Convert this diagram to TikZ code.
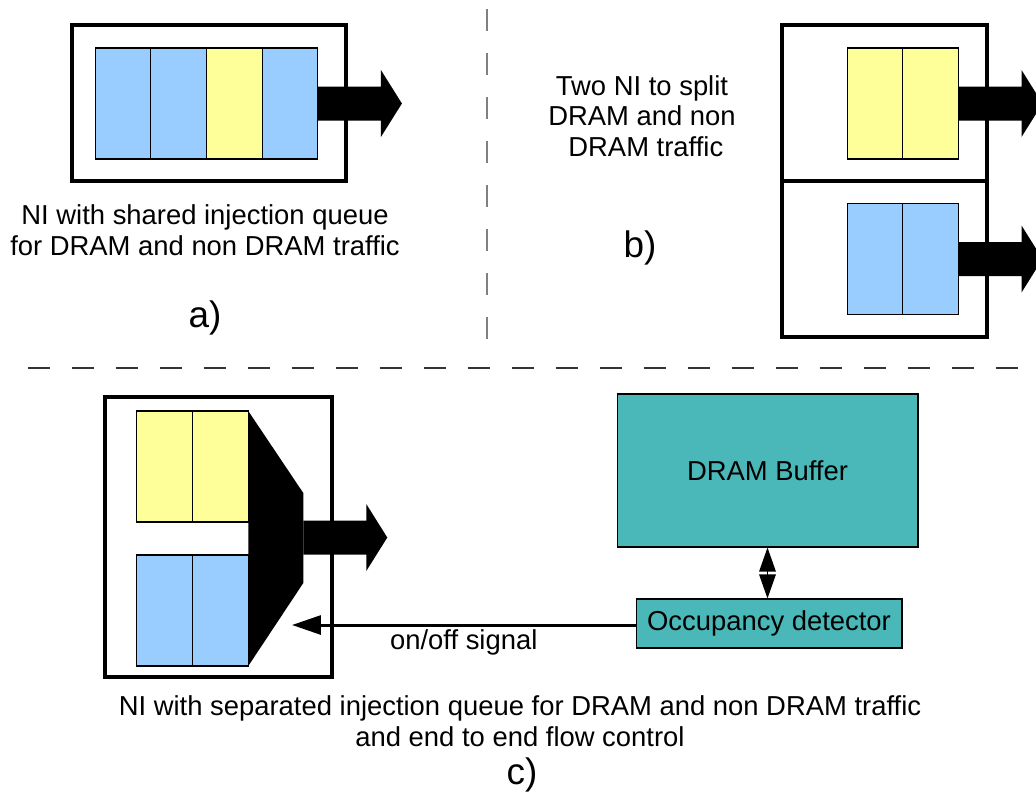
\documentclass[tikz,border=0pt]{standalone}
\usepackage{fontspec}
\setmainfont{Liberation Sans}
\usepackage{xcolor}
\usepackage{tikz}
\usetikzlibrary{positioning,arrows.meta,calc}
\definecolor{qblue}{RGB}{153,204,255}
\definecolor{qyellow}{RGB}{255,255,153}
\definecolor{dteal}{RGB}{74,184,184}
\tikzset{
  nibox/.style  ={draw, rectangle, line width=2.3pt, inner sep=0pt, outer sep=0pt},
  cellb/.style  ={draw, rectangle, fill=qblue, minimum width=1.114cm, minimum height=2.22cm, inner sep=0pt, outer sep=0pt, line width=0.6pt},
  celly/.style  ={cellb, fill=qyellow},
  tblk/.style   ={draw, rectangle, fill=dteal, line width=0.6pt, inner sep=0pt, align=center},
  sep/.style    ={line width=1pt, dash pattern=on 0.44cm off 0.44cm},
  sigarr/.style ={-{Triangle[length=0.58cm, width=0.38cm]}, line width=1.7pt},
  dblarr/.style ={{Triangle[length=0.48cm, width=0.33cm]}-{Triangle[length=0.48cm, width=0.33cm]}, line width=0.8pt},
  lbl/.style    ={align=center, font=\fontsize{15.6}{17.5}\selectfont},
  tag/.style    ={font=\fontsize{21}{24}\selectfont},
  blockarrow/.pic={\fill (0,-17) -- (63,-17) -- (63,-33.5) -- (84,0) -- (63,33.5) -- (63,17) -- (0,17) -- cycle;},
}
\begin{document}
\begin{tikzpicture}[x=0.02cm, y=-0.02cm]
  \useasboundingbox (0,0) rectangle (1036,796);
  \clip (0,0) rectangle (1036,796);

  % separators
  \draw[sep, gray] (487,9) -- (487,345);
  \draw[sep, black!80] (28,368) -- (1036,368);

  % a) shared queue
  \node[nibox, minimum width=5.48cm, minimum height=3.12cm] (nia) at (209,103) {};
  \node[cellb] (qa1) at (123,103.5) {};
  \node[cellb, right=0pt of qa1] (qa2) {};
  \node[celly, right=0pt of qa2] (qa3) {};
  \node[cellb, right=0pt of qa3] (qa4) {};
  \pic at (qa4.east) {blockarrow};
  \node[lbl] (capa) at (205,230) {NI with shared injection queue\\for DRAM and non DRAM traffic};
  \node[tag] (taga) at (205,318) {a)};

  % b) two NI
  \node[nibox, minimum width=4.1cm, minimum height=3.12cm] (nib1) at (884.5,103) {};
  \node[nibox, minimum width=4.1cm, minimum height=3.12cm] (nib2) at (884.5,259) {};
  \node[celly] (qb1) at (875,103.5) {};
  \node[celly, right=0pt of qb1] (qb2) {};
  \node[cellb] (qb3) at (875,259) {};
  \node[cellb, right=0pt of qb3] (qb4) {};
  \pic at (qb2.east) {blockarrow};
  \pic at (qb4.east) {blockarrow};
  \node[lbl] (capb) at (642,116) {Two NI to split\\DRAM and non\\\ DRAM traffic};
  \node[tag] (tagb) at (640,248) {b)};

  % c) separated queues + flow control
  \node[nibox, minimum width=4.54cm, minimum height=5.6cm] (nic) at (218.5,537) {};
  \node[celly] (qc1) at (164.75,466.5) {};
  \node[celly, right=0pt of qc1] (qc2) {};
  \node[cellb] (qc3) at (164.75,610.5) {};
  \node[cellb, right=0pt of qc3] (qc4) {};
  \fill (qc2.north east) -- ++(55,82) -- ++(0,90) -- (qc4.south east) -- cycle;
  \coordinate (muxout) at ($(qc2.north east)+(55,126.5)$);
  \pic at (muxout) {blockarrow};

  \node[tblk, minimum width=6.02cm, minimum height=3.06cm, font=\fontsize{15.6}{17.5}\selectfont] (dram) at (767.5,470.5) {DRAM Buffer};
  \node[tblk, minimum width=5.32cm, minimum height=0.98cm, font=\fontsize{15.6}{17.5}\selectfont] (occ) at (769,623.5) {Occupancy detector};
  \draw[dblarr] (dram.south) -- (dram.south |- occ.north);
  \coordinate (sigin) at (292,625);
  \draw[sigarr] (occ.west |- sigin) -- (sigin) node[midway, below, inner sep=1.5pt, font=\fontsize{15.6}{17.5}\selectfont] {on/off signal};

  \node[lbl] (capc) at (520,721) {NI with separated injection queue for DRAM and non DRAM traffic\\and end to end flow control};
  \node[tag] (tagc) at (522,775) {c)};
\end{tikzpicture}
\end{document}
